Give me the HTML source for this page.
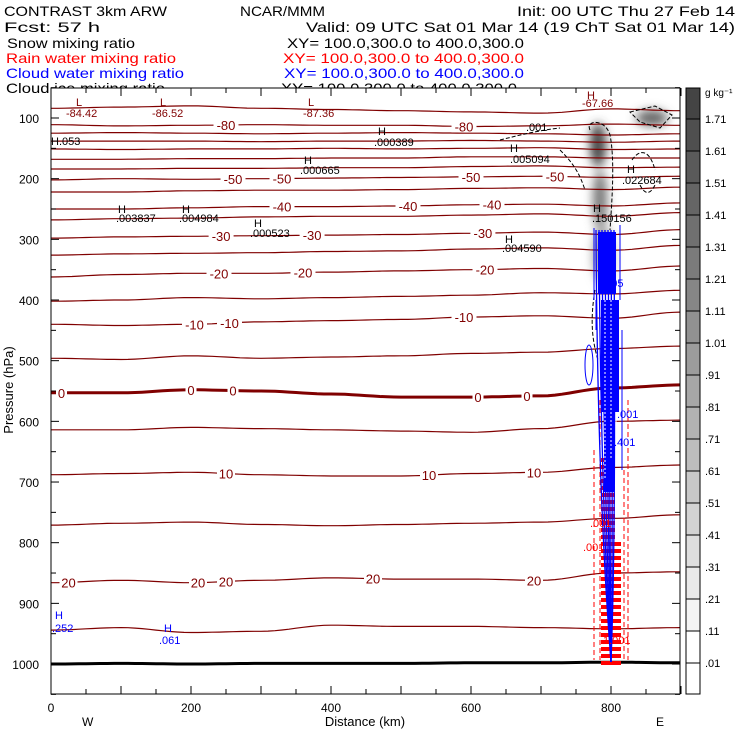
<!DOCTYPE html>
<html><head><meta charset="utf-8"><style>
html,body{margin:0;padding:0;background:#fff;width:740px;height:740px;overflow:hidden}
svg{display:block;font-family:"Liberation Sans",sans-serif}
</style></head><body>
<svg id="chart" width="740" height="740" viewBox="0 0 740 740" xmlns="http://www.w3.org/2000/svg">
<defs>
<filter id="blur" x="-50%" y="-50%" width="200%" height="200%"><feGaussianBlur stdDeviation="5"/></filter>
<clipPath id="plotclip"><rect x="51" y="88" width="629" height="606"/></clipPath>
</defs>
<g font-size="14">
<text x="4" y="16" textLength="163" lengthAdjust="spacingAndGlyphs">CONTRAST  3km ARW</text>
<text x="240" y="16" textLength="85" lengthAdjust="spacingAndGlyphs">NCAR/MMM</text>
<text x="517" y="16" textLength="218" lengthAdjust="spacingAndGlyphs">Init: 00 UTC Thu 27 Feb 14</text>
<text x="4" y="32" textLength="96" lengthAdjust="spacingAndGlyphs">Fcst:   57 h</text>
<text x="306" y="32" textLength="429" lengthAdjust="spacingAndGlyphs">Valid: 09 UTC Sat 01 Mar 14 (19 ChT Sat 01 Mar 14)</text>
<text x="7" y="48" textLength="128" lengthAdjust="spacingAndGlyphs">Snow mixing ratio</text>
<text x="287" y="48" textLength="237" lengthAdjust="spacingAndGlyphs">XY= 100.0,300.0 to 400.0,300.0</text>
<text x="6" y="63" fill="#f00" textLength="170" lengthAdjust="spacingAndGlyphs">Rain water mixing ratio</text>
<text x="283" y="63" fill="#f00" textLength="241" lengthAdjust="spacingAndGlyphs">XY= 100.0,300.0 to 400.0,300.0</text>
<text x="6" y="78" fill="#00f" textLength="178" lengthAdjust="spacingAndGlyphs">Cloud water mixing ratio</text>
<text x="284" y="78" fill="#00f" textLength="240" lengthAdjust="spacingAndGlyphs">XY= 100.0,300.0 to 400.0,300.0</text>
<text x="6" y="93" textLength="159" lengthAdjust="spacingAndGlyphs">Cloud ice mixing ratio</text>
<text x="281" y="93" textLength="236" lengthAdjust="spacingAndGlyphs">XY= 100.0,300.0 to 400.0,300.0</text>
</g>
<g id="plot" clip-path="url(#plotclip)"></g>
<g id="axes"></g>
<g id="cbar"></g>
</svg>
<script>
const xKm=[0,100,200,300,400,500,600,700,800,900];
const levels=[-85,-80,-75,-70,-65,-60,-55,-50,-45,-40,-35,-30,-25,-20,-15,-10,-5,0,5,10,15,20,25];
const P_m85=[84,82,80,84,86,88,90,92,85,88];
const P_m80=[111,113,112,111,112,112,114,113,110,112];
const P_m75=[125,124,125,126,125,124,125,126,128,126];
const P_m70=[138,138,138,139,138,138,137,138,140,138];
const P_m65=[151,152,151,151,150,151,150,149,152,151];
const P_m60=[168,168,167,167,166,166,164,164,166,166];
const P_m55=[184,184,183,183,182,182,180,179,182,181];
const P_m50=[202,200,201,200,199,198,197,196,198,196];
const P_m45=[222,222,220,219,219,218,216,215,218,214];
const P_m40=[250,250,248,246,246,245,243,242,245,240];
const P_m35=[268,266,265,263,262,262,260,258,262,256];
const P_m30=[298,296,295,294,293,292,290,288,292,284];
const P_m25=[326,324,323,322,320,319,316,314,318,310];
const P_m20=[362,358,356,356,354,352,350,348,352,344];
const P_m15=[402,400,396,398,396,394,392,388,390,384];
const P_m10=[440,442,440,436,434,432,428,426,430,420];
const P_m5=[496,498,492,496,494,492,488,486,480,476];
const P_0=[553,553,548,550,555,560,560,558,545,540];
const P_5=[614,614,610,612,614,616,618,612,600,598];
const P_10=[688,686,684,688,690,690,686,684,676,672];
const P_15=[771,768,766,770,772,770,768,766,760,754];
const P_20=[866,862,866,862,858,860,860,862,850,848];
const P_25=[944,940,948,946,936,938,938,940,942,940];
const isoP=[P_m85,P_m80,P_m75,P_m70,P_m65,P_m60,P_m55,P_m50,P_m45,P_m40,P_m35,P_m30,P_m25,P_m20,P_m15,P_m10,P_m5,P_0,P_5,P_10,P_15,P_20,P_25];
const surfaceP=[1000,999,1000,999,999,999,998,998,997,998];
const labelLevels=[-80,-80,-50,-50,-50,-50,-40,-40,-40,-30,-30,-30,-20,-20,-20,-10,-10,-10,0,0,0,0,0,10,10,10,20,20,20,20,20];
const labelKm=[250,590,260,330,600,720,330,510,630,243,373,617,240,360,620,205,255,590,15,200,260,610,680,250,540,690,25,210,250,460,690];
const cbarTicks=['.01','.11','.21','.31','.41','.51','.61','.71','.81','.91','1.01','1.11','1.21','1.31','1.41','1.51','1.61','1.71'];
const xTicks=[0,200,400,600,800];
const yTicks=[100,200,300,400,500,600,700,800,900,1000];

const NS='http://www.w3.org/2000/svg';
const X=km=>51+km*0.7;
const Y=p=>118+(p-100)*0.6067;
function mk(tag,attrs,parent){const e=document.createElementNS(NS,tag);for(const k in attrs)e.setAttribute(k,attrs[k]);parent.appendChild(e);return e;}
const plot=document.getElementById('plot'),axes=document.getElementById('axes'),cbar=document.getElementById('cbar');
mk('rect',{x:51,y:88,width:629,height:606,fill:'#fff'},plot);

function interp(arr,km){for(let i=0;i<xKm.length-1;i++){if(km<=xKm[i+1]){const t=(km-xKm[i])/(xKm[i+1]-xKm[i]);const s=(1-Math.cos(t*Math.PI))/2;return arr[i]*(1-s)+arr[i+1]*s;}}return arr[arr.length-1];}
function pathFor(arr){let d='';for(let km=0;km<=900;km+=10){d+=(km?'L':'M')+X(km).toFixed(1)+' '+Y(interp(arr,km)).toFixed(1);}return d;}

const shade=mk('g',{filter:'url(#blur)'},plot);


mk('ellipse',{cx:598,cy:145,rx:8,ry:22,fill:'#444'},shade);
mk('ellipse',{cx:600,cy:200,rx:7,ry:30,fill:'#777'},shade);
mk('ellipse',{cx:603,cy:255,rx:10,ry:28,fill:'#999'},shade);
mk('ellipse',{cx:652,cy:118,rx:16,ry:8,fill:'#666'},shade);

levels.forEach((lv,i)=>{
  const p=mk('path',{d:pathFor(isoP[i]),fill:'none',stroke:'#800000','stroke-width':lv===0?3:1.2},plot);
  
  
});
const sp=mk('path',{d:pathFor(surfaceP),fill:'none',stroke:'#000','stroke-width':3},plot);



labelLevels.forEach((lv,i)=>{
  const km=labelKm[i];const arr=isoP[levels.indexOf(lv)];
  const x=X(km),y=Y(interp(arr,km));
  const w=String(lv).length*7+4;
  mk('rect',{x:x-w/2,y:y-6,width:w,height:12,fill:'#fff'},plot);
  const t=mk('text',{x:x,y:y+5,'text-anchor':'middle','font-size':13,fill:'#800000'},plot);
  t.textContent=String(lv);
  
  
});

const ice=mk('g',{fill:'none',stroke:'#000','stroke-width':1,'stroke-dasharray':'4 2'},plot);


mk('path',{d:'M630 112 L655 106 L672 115 L660 128 L640 122 Z'},ice);
mk('path',{d:'M590 130 C585 120 605 118 610 135 C615 160 612 200 610 230'},ice);
mk('path',{d:'M500 140 C520 135 540 130 560 128'},ice);
mk('path',{d:'M560 150 C575 165 580 175 585 190'},ice);
mk('path',{d:'M632 160 C640 148 650 150 655 170 M640 185 C645 195 650 195 655 185'},ice);
mk('path',{d:'M595 290 C590 320 592 340 598 360'},ice);

const rain=mk('g',{},plot);


mk('path',{d:'M600 400 L600 660 M628 400 L628 660 M594 450 L594 660 M624 470 L624 660',fill:'none',stroke:'#f00','stroke-dasharray':'5 3','stroke-width':1},rain);
for(let y=458;y<662;y+=7){mk('rect',{x:601,y:y,width:y>540?20:14,height:4,fill:'#f00'},rain);}
const cw=mk('g',{},plot);


mk('rect',{x:598,y:232,width:18,height:62,fill:'#00f'},cw);
mk('rect',{x:601,y:300,width:18,height:112,fill:'#00f'},cw);
mk('rect',{x:604,y:412,width:10,height:80,fill:'#00f'},cw);
for(let i=0;i<7;i++){mk('path',{d:`M${596+i*3} 230 C${597+i*3} 420 ${603+i*2} 560 ${611} 662`,fill:'none',stroke:'#00f','stroke-width':1.3},cw);}
mk('path',{d:'M594 228 L594 300 M620 225 L620 300 M596 300 L596 330 M622 330 L622 470',fill:'none',stroke:'#00f','stroke-width':1},cw);
mk('ellipse',{cx:589,cy:365,rx:4,ry:20,fill:'none',stroke:'#00f'},cw);
mk('path',{d:'M605 300 L605 480 M611 300 L611 460 M616 420 L616 500',stroke:'#fff','stroke-width':1,'stroke-dasharray':'2 2',fill:'none'},cw);

function ann(txt,x,y,col,name){const t=mk('text',{x:x,y:y,'font-size':11,fill:col},plot);t.textContent=txt;}
ann('L',76,106,'#800000','low-marker');ann('-84.42',66,117,'#800000','low-value');
ann('L',160,106,'#800000','low-marker');ann('-86.52',152,117,'#800000','low-value');
ann('L',308,106,'#800000','low-marker');ann('-87.36',303,117,'#800000','low-value');
ann('H',587,99,'#800000','high-marker');ann('-67.66',582,107,'#800000','high-value');
ann('H.053',51,145,'#000','ice-max-label');
ann('H',378,135,'#000','ice-max-marker');ann('.000389',374,146,'#000','ice-max-label');
ann('H',304,164,'#000','ice-max-marker');ann('.000665',300,174,'#000','ice-max-label');
ann('H',118,213,'#000','ice-max-marker');ann('.003837',116,222,'#000','ice-max-label');
ann('H',182,213,'#000','ice-max-marker');ann('.004984',179,222,'#000','ice-max-label');
ann('H',254,227,'#000','ice-max-marker');ann('.000523',250,237,'#000','ice-max-label');
ann('H',510,152,'#000','ice-max-marker');ann('.005094',510,163,'#000','ice-max-label');
ann('.001',526,131,'#000','ice-max-label');
ann('H',505,243,'#000','ice-max-marker');ann('.004590',502,252,'#000','ice-max-label');
ann('H',627,173,'#000','ice-max-marker');ann('.022684',622,184,'#000','ice-max-label');
ann('H',593,212,'#000','ice-max-marker');ann('.150156',592,222,'#000','ice-max-label');
ann('H',600,277,'#00f','cloud-water-marker');ann('2005',599,287,'#00f','cloud-water-label');
ann('H',55,619,'#00f','cloud-water-marker');ann('.252',52,632,'#00f','cloud-water-label');
ann('H',164,632,'#00f','cloud-water-marker');ann('.061',159,644,'#00f','cloud-water-label');
ann('.001',617,418,'#00f','cloud-water-label');ann('.401',614,446,'#00f','cloud-water-label');
ann('.001',590,527,'#f00','rain-label');ann('.001',583,551,'#f00','rain-label');
ann('1.001',603,644,'#f00','rain-label');

mk('rect',{x:51,y:88,width:629,height:606,fill:'none',stroke:'#000','stroke-width':1},axes);
for(let km=0;km<=900;km+=50){const x=X(km);mk('line',{x1:x,x2:x,y1:694,y2:km%100?689:686,stroke:'#000'},axes);mk('line',{x1:x,x2:x,y1:88,y2:km%100?93:96,stroke:'#000'},axes);}
for(let p=50;p<=1050;p+=50){const y=Y(p);mk('line',{x1:51,x2:p%100?56:59,y1:y,y2:y,stroke:'#000'},axes);mk('line',{x1:680,x2:p%100?675:672,y1:y,y2:y,stroke:'#000'},axes);}
xTicks.forEach(v=>{const t=mk('text',{x:X(v),y:712,'text-anchor':'middle','font-size':12},axes);t.textContent=v;});
yTicks.forEach(v=>{const t=mk('text',{x:39,y:Y(v)+5,'text-anchor':'end','font-size':12},axes);t.textContent=v;});
let t=mk('text',{x:365,y:726,'text-anchor':'middle','font-size':13},axes);t.textContent='Distance (km)';
t=mk('text',{x:0,y:0,'text-anchor':'middle','font-size':13,transform:'translate(13,390) rotate(-90)'},axes);t.textContent='Pressure (hPa)';
t=mk('text',{x:82,y:726,'font-size':12},axes);t.textContent='W';
t=mk('text',{x:656,y:726,'font-size':12},axes);t.textContent='E';

const nb=cbarTicks.length+1;
for(let i=0;i<nb;i++){
  const y0=663-32*i;const top=Math.max(88,y0-32);const bot=i===0?694:y0;
  const g=255-i*11;
  const r=mk('rect',{x:686,y:top,width:14,height:bot-top,fill:`rgb(${g},${g},${g})`},cbar);
  
  
}
mk('rect',{x:686,y:88,width:14,height:606,fill:'none',stroke:'#000'},cbar);
cbarTicks.forEach((lab,i)=>{const y=663-32*i;mk('line',{x1:686,x2:700,y1:y,y2:y,stroke:'#000'},cbar);
  const tt=mk('text',{x:705,y:y+4,'font-size':11},cbar);tt.textContent=lab;});
t=mk('text',{x:705,y:96,'font-size':10},cbar);t.textContent='g kg⁻¹';
</script>
</body></html>
